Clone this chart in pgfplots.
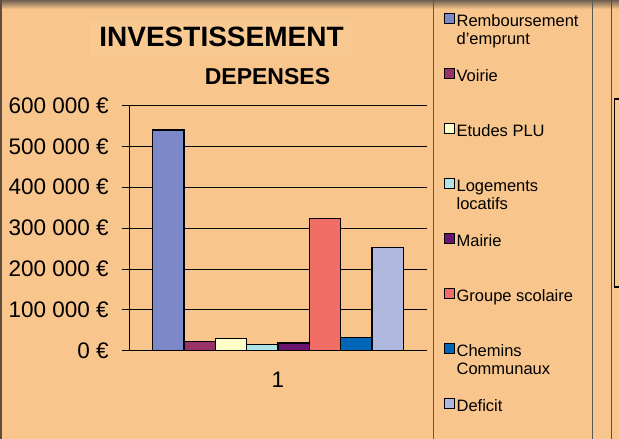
\documentclass[border=0pt]{standalone}
\usepackage{fontspec}
\setmainfont{Liberation Sans}
\usepackage{pgfplots}
\pgfplotsset{compat=1.18}
\definecolor{bg}{HTML}{F8C58C}
\definecolor{bglight}{HTML}{F9C992}
\definecolor{edge}{HTML}{5E4C3C}
\definecolor{topdark}{HTML}{6E5E50}
\definecolor{c1}{HTML}{7C88C8}
\definecolor{c2}{HTML}{993366}
\definecolor{c3}{HTML}{FFFFC8}
\definecolor{c4}{HTML}{B0E4E4}
\definecolor{c5}{HTML}{6A1470}
\definecolor{c6}{HTML}{F06E66}
\definecolor{c7}{HTML}{0066B8}
\definecolor{c8}{HTML}{B0B8DE}
\newcommand{\twol}[2]{\begin{tabular}[t]{@{}l@{}}#1\\#2\strut\end{tabular}}
\begin{document}
\begin{tikzpicture}[x=1pt,y=1pt]
\fill[bg] (0,0) rectangle (619,439);
\shade[top color=topdark, bottom color=bg] (0,430) rectangle (619,439);
\fill[edge] (0,0) rectangle (2,439);
\fill[bglight] (90,382) rectangle (353,419);
\node[font=\bfseries\fontsize{28}{30}\selectfont, anchor=base, inner sep=0pt] at (221.5,392.3) {INVESTISSEMENT};
\node[font=\bfseries\fontsize{23}{25}\selectfont, anchor=base, inner sep=0pt] at (267.5,354) {DEPENSES};
% legend frame and right-hand fragment
\draw[gray!70!black, line width=0.8pt] (433,-2) -- (433,441);
\draw[gray!70!black, line width=0.8pt] (592,-2) -- (592,441);
\draw[edge, line width=1pt] (611,-2) -- (611,441);
\filldraw[fill=bglight, draw=black, line width=1.2pt] (614.5,152) rectangle (625,340);
\begin{axis}[
  at={(129pt,88.3pt)}, anchor=south west,
  scale only axis, width=298pt, height=245.3pt,
  xmin=0, xmax=2, ymin=0, ymax=600000,
  ybar=0pt, bar width=31.3pt,
  legend image code/.code={\draw[#1, line width=1.3pt] (0pt,2.7pt) rectangle (9.6pt,12.7pt);},
  axis x line*=bottom, axis y line*=left,
  axis line style={black, line width=0.8pt},
  ymajorgrids, major grid style={black, line width=0.7pt},
  ytick={0,100000,200000,300000,400000,500000,600000},
  yticklabels={0 €,100 000 €,200 000 €,300 000 €,400 000 €,500 000 €,600 000 €},
  scaled y ticks=false,
  xtick={1}, xticklabels={1},
  tick align=outside, major tick length=7pt,
  tick style={black, line width=0.8pt},
  x tick style={draw=none},
  extra x ticks={0,2}, extra x tick labels={},
  extra x tick style={tick style={draw=black, line width=0.8pt}, major tick length=7pt},
  /pgf/number format/assume math mode=true,
  tick label style={font=\fontsize{22.5}{24}\selectfont},
  yticklabel style={xshift=-9.8pt},
  xticklabel style={yshift=-11pt},
  legend cell align=left,
  legend style={at={(1.0570,1.3806)}, anchor=north west, draw=none, fill=none,
    inner sep=0pt, row sep=16pt, column sep=0pt,
    font=\fontsize{16.5}{18.5}\selectfont,
    cells={anchor=base west},
    nodes={inner xsep=1.5pt, inner ysep=1pt, text height=12.95pt, text depth=24.05pt}},
  clip=false,
]
\addplot[fill=c1, draw=black, line width=1.3pt] coordinates {(1,540000)};
\addplot[fill=c2, draw=black, line width=1.3pt] coordinates {(1,23000)};
\addplot[fill=c3, draw=black, line width=1.3pt] coordinates {(1,29000)};
\addplot[fill=c4, draw=black, line width=1.3pt] coordinates {(1,15000)};
\addplot[fill=c5, draw=black, line width=1.3pt] coordinates {(1,19000)};
\addplot[fill=c6, draw=black, line width=1.3pt] coordinates {(1,324000)};
\addplot[fill=c7, draw=black, line width=1.3pt] coordinates {(1,32000)};
\addplot[fill=c8, draw=black, line width=1.3pt] coordinates {(1,252000)};
\legend{\twol{Remboursement}{d'emprunt},\twol{Voirie}{},\twol{Etudes PLU}{},\twol{Logements}{locatifs},\twol{Mairie}{},\twol{Groupe scolaire}{},\twol{Chemins}{Communaux},\twol{Deficit}{}}
\end{axis}
\pgfresetboundingbox
\path[use as bounding box] (0,0) rectangle (619,439);
\end{tikzpicture}
\end{document}
